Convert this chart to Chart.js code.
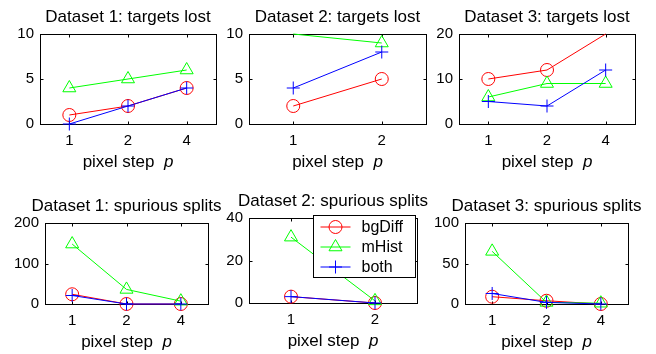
<!DOCTYPE html>
<html>
<head>
<meta charset="utf-8">
<script src="https://cdn.jsdelivr.net/npm/chart.js@4/dist/chart.umd.min.js"></script>
<style>
  body { margin: 0; background: #fff; width: 656px; height: 354px; position: relative; overflow: hidden; }
  canvas { position: absolute; }
</style>
</head>
<body>
<script>
// pixel step categories
const steps3 = ['1', '2', '4'];
const steps2 = ['1', '2'];

// Dataset 1
const d1LostBgDiff = [1, 2, 4];
const d1LostMHist  = [4, 5, 6];
const d1LostBoth   = [0, 2, 4];
const d1SplitBgDiff = [24, 0, 0];
const d1SplitMHist  = [148, 36, 7];
const d1SplitBoth   = [21, 0, 0];

// Dataset 2
const d2LostBgDiff = [2, 5];
const d2LostMHist  = [10, 9];
const d2LostBoth   = [4, 8];
const d2SplitBgDiff = [3, 0];
const d2SplitMHist  = [31, 1];
const d2SplitBoth   = [3, 0];

// Dataset 3
const d3LostBgDiff = [10, 12, 20];
const d3LostMHist  = [6, 9, 9];
const d3LostBoth   = [5, 4, 12];
const d3SplitBgDiff = [9, 4, 0];
const d3SplitMHist  = [65, 2, 1];
const d3SplitBoth   = [13, 2, 0];

const seriesNames = ['bgDiff', 'mHist', 'both'];

Chart.defaults.font.family = '"Liberation Sans", Arial, sans-serif';
Chart.defaults.font.size = 15;
Chart.defaults.color = '#000';

const PAD_L = 44, PAD_T = 34, PAD_R = 18, PAD_B = 50;

const styles = [
  { color: '#ff0000', shape: 'circle', r: 6.5, order: 3 },
  { color: '#00ff00', shape: 'triangle', r: 7.5, order: 2 },
  { color: '#0000ff', shape: 'cross', r: 6.5, order: 1 }
];

function marker(ctx, shape, r, x, y) {
  ctx.beginPath();
  if (shape === 'circle') {
    ctx.arc(x, y, r, 0, Math.PI * 2);
  } else if (shape === 'triangle') {
    ctx.moveTo(x, y - r);
    ctx.lineTo(x + r * 0.866, y + r / 2);
    ctx.lineTo(x - r * 0.866, y + r / 2);
    ctx.closePath();
  } else {
    ctx.moveTo(x - r, y); ctx.lineTo(x + r, y);
    ctx.moveTo(x, y - r); ctx.lineTo(x, y + r);
  }
  ctx.stroke();
}

// axes box, inner tick marks, title and the x label
const axisBox = {
  id: 'axisBox',
  beforeDatasetsDraw(chart) {
    const { ctx, chartArea: a, scales: { x, y } } = chart;
    ctx.save();
    ctx.strokeStyle = '#000';
    ctx.lineWidth = 1;
    const l = Math.round(a.left) + 0.5, t = Math.round(a.top) + 0.5;
    const r = Math.round(a.right) + 0.5, b = Math.round(a.bottom) + 0.5;
    ctx.strokeRect(l, t, r - l, b - t);
    ctx.beginPath();
    x.ticks.forEach((tk, i) => {
      const px = Math.round(x.getPixelForTick(i)) + 0.5;
      ctx.moveTo(px, b); ctx.lineTo(px, b - 3);
      ctx.moveTo(px, t); ctx.lineTo(px, t + 3);
    });
    y.ticks.forEach((tk, i) => {
      const py = Math.round(y.getPixelForTick(i)) + 0.5;
      ctx.moveTo(l, py); ctx.lineTo(l + 3, py);
      ctx.moveTo(r, py); ctx.lineTo(r - 3, py);
    });
    ctx.stroke();
    ctx.restore();
  },
  afterDraw(chart, args, opts) {
    const { ctx, chartArea: a } = chart;
    const fam = Chart.defaults.font.family;
    const cx = (a.left + a.right) / 2;
    ctx.save();
    ctx.fillStyle = '#000';
    ctx.textBaseline = 'alphabetic';

    ctx.font = '17px ' + fam;
    ctx.textAlign = 'center';
    ctx.fillText(opts.title, cx, a.top - 12);

    ctx.textAlign = 'left';
    const txt = 'pixel step  ', it = 'p';
    const w1 = ctx.measureText(txt).width;
    ctx.font = 'italic 17px ' + fam;
    const w2 = ctx.measureText(it).width;
    const x0 = cx - (w1 + w2) / 2;
    const yb = a.bottom + 43;
    ctx.font = '17px ' + fam;
    ctx.fillText(txt, x0, yb);
    ctx.font = 'italic 17px ' + fam;
    ctx.fillText(it, x0 + w1, yb);
    ctx.restore();
  }
};

// legend box inside the middle bottom panel
const keyBox = {
  id: 'keyBox',
  afterDraw(chart) {
    const { ctx, chartArea: a } = chart;
    const lx = Math.round(a.left) + 64.5, ly = Math.round(a.top) - 2.5;
    ctx.save();
    ctx.fillStyle = '#fff';
    ctx.strokeStyle = '#000';
    ctx.lineWidth = 1;
    ctx.fillRect(lx, ly, 102, 62);
    ctx.strokeRect(lx, ly, 102, 62);
    chart.data.datasets.forEach((ds, i) => {
      const st = styles[i];
      const cy = ly + 11.5 + i * 20;
      ctx.strokeStyle = st.color;
      ctx.beginPath();
      ctx.moveTo(lx + 7, cy); ctx.lineTo(lx + 37, cy);
      ctx.stroke();
      marker(ctx, st.shape, st.r, lx + 22, cy);
      ctx.fillStyle = '#000';
      ctx.font = '16px ' + Chart.defaults.font.family;
      ctx.textBaseline = 'middle';
      ctx.fillText(ds.label, lx + 48, cy + 1);
    });
    ctx.restore();
  }
};

function series(i, values) {
  const st = styles[i];
  return {
    label: seriesNames[i],
    data: values,
    borderColor: st.color,
    backgroundColor: 'rgba(0,0,0,0)',
    borderWidth: 1,
    pointStyle: st.shape,
    pointBorderColor: st.color,
    pointBackgroundColor: 'rgba(0,0,0,0)',
    pointBorderWidth: 1,
    // points sitting on the top limit are hidden, as in the original figure
    pointRadius: c => (c.raw >= c.chart.options.scales.y.max ? 0 : st.r),
    tension: 0,
    clip: false,
    order: st.order
  };
}

function panel(box, title, labels, bg, mh, bo, yMax, yStep, withKey) {
  const cv = document.createElement('canvas');
  const w = box.right - box.left + PAD_L + PAD_R;
  const h = box.bottom - box.top + PAD_T + PAD_B;
  cv.width = w; cv.height = h;
  cv.style.width = w + 'px'; cv.style.height = h + 'px';
  cv.style.left = (box.left - PAD_L) + 'px';
  cv.style.top = (box.top - PAD_T) + 'px';
  document.body.appendChild(cv);
  const plugins = withKey ? [axisBox, keyBox] : [axisBox];
  return new Chart(cv, {
    type: 'line',
    data: { labels: labels, datasets: [series(0, bg), series(1, mh), series(2, bo)] },
    options: {
      responsive: false,
      animation: false,
      events: [],
      layout: { padding: { left: 0, top: PAD_T, right: PAD_R, bottom: 0 } },
      scales: {
        x: {
          offset: true,
          grid: { display: false, drawTicks: false },
          border: { display: false },
          ticks: { color: '#000', padding: 8, maxRotation: 0 },
          afterFit: s => { s.height = PAD_B; }
        },
        y: {
          min: 0, max: yMax,
          grid: { display: false, drawTicks: false },
          border: { display: false },
          ticks: { stepSize: yStep, color: '#000', padding: 6 },
          afterFit: s => { s.width = PAD_L; }
        }
      },
      plugins: {
        legend: { display: false },
        tooltip: { enabled: false },
        title: { display: false },
        axisBox: { title: title }
      }
    },
    plugins: plugins
  });
}

panel({ left: 40, right: 216, top: 34, bottom: 124 }, 'Dataset 1: targets lost', steps3,
  d1LostBgDiff, d1LostMHist, d1LostBoth, 10, 5, false);
panel({ left: 249, right: 426, top: 34, bottom: 124 }, 'Dataset 2: targets lost', steps2,
  d2LostBgDiff, d2LostMHist, d2LostBoth, 10, 5, false);
panel({ left: 459, right: 635, top: 34, bottom: 124 }, 'Dataset 3: targets lost', steps3,
  d3LostBgDiff, d3LostMHist, d3LostBoth, 20, 10, false);
panel({ left: 45, right: 208, top: 223, bottom: 304 }, 'Dataset 1: spurious splits', steps3,
  d1SplitBgDiff, d1SplitMHist, d1SplitBoth, 200, 100, false);
panel({ left: 249, right: 417, top: 218, bottom: 303 }, 'Dataset 2: spurious splits', steps2,
  d2SplitBgDiff, d2SplitMHist, d2SplitBoth, 40, 20, true);
panel({ left: 465, right: 628, top: 223, bottom: 304 }, 'Dataset 3: spurious splits', steps3,
  d3SplitBgDiff, d3SplitMHist, d3SplitBoth, 100, 50, false);
</script>
</body>
</html>
